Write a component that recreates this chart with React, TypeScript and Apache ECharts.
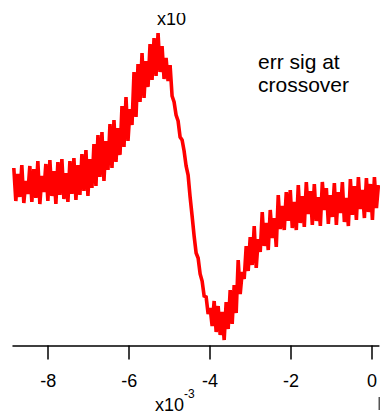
import React, { useEffect, useRef } from "react";
import * as echarts from "echarts";

// x sampling grid (units of 1e-3)
const xStart = -8.85;
const xStep = 0.0495;

// error signal (arbitrary units)
const signal: number[] = [
  3.2, -0.1, 2.6, 0.3, 3.5, -0.3, 1.9, 0.6, 3.4, -0.2,
  3.1, 0.2, 3.9, -0.4, 2.4, 0.8, 3.6, -0.1, 4.0, 0.4,
  2.9, -0.4, 3.8, 0.5, 4.1, 0.1, 2.7, -0.2, 3.9, 0.6,
  4.2, 0.0, 3.5, 0.5, 4.6, 0.9, 5.0, 0.4, 4.1, 1.2,
  5.6, 1.4, 6.5, 2.3, 6.8, 1.9, 5.9, 3.0, 7.6, 3.2,
  8.0, 3.8, 7.2, 4.5, 9.4, 5.3, 10.3, 5.9, 9.1, 7.5,
  12.8, 8.3, 13.6, 9.8, 14.7, 10.2, 13.9, 11.3, 15.6, 12.0,
  16.2, 12.4, 16.7, 12.8, 15.4, 12.1, 14.2, 11.9, 13.5, 10.4,
  9.8, 8.5, 7.9, 6.3, 6.0, 4.9, 3.4, 2.5, 0.3, -1.6,
  -3.6, -5.3, -5.8, -7.4, -8.1, -9.6, -9.7, -11.4, -10.8, -12.6,
  -10.1, -13.2, -10.6, -13.5, -11.2, -14.0, -10.2, -12.9, -9.0, -12.4,
  -8.5, -11.3, -6.0, -9.4, -7.2, -7.9, -4.6, -7.1, -3.7, -6.5,
  -2.6, -6.8, -3.9, -5.2, -1.2, -4.6, -2.3, -5.0, -1.0, -3.8,
  -1.8, -4.7, 0.5, -2.9, -0.6, -3.0, 0.8, -2.1, 1.0, -2.8,
  -0.2, -3.0, 1.5, -2.3, 0.4, -2.7, 1.8, -1.4, 0.9, -2.5,
  1.6, -2.1, 0.3, -2.6, 1.8, -1.0, 1.2, -2.4, 0.5, -1.7,
  1.7, -2.5, 0.8, -1.3, 1.8, -2.2, 0.2, -2.6, 2.1, -1.5,
  1.4, -2.0, 2.3, -0.9, 1.0, -1.8, 2.2, -1.2, 1.6, -2.0, 2.3, -0.8, 1.5,
];

const xTickValues = [-8, -6, -4, -2, 0];
const annotationLines = ["err sig at", "crossover"];

const FONT = "'Liberation Sans', Arial, Helvetica, sans-serif";

export default function App() {
  const ref = useRef<HTMLDivElement>(null);

  useEffect(() => {
    if (!ref.current) return;
    const chart = echarts.init(ref.current, null, { renderer: "svg" });
    const data = signal.map((v, i) => [xStart + i * xStep, v]);
    chart.setOption({
      animation: false,
      backgroundColor: "#ffffff",
      grid: { left: 13, top: 0, width: 367, height: 345.5, containLabel: false },
      xAxis: {
        type: "value",
        min: -8.87,
        max: 0.17,
        axisLine: { show: true, onZero: false, lineStyle: { color: "#000", width: 1.5 } },
        axisTick: {
          show: true,
          length: 14,
          customValues: xTickValues,
          lineStyle: { color: "#000", width: 1.5 },
        },
        axisLabel: {
          show: true,
          customValues: xTickValues,
          fontSize: 18,
          fontFamily: FONT,
          color: "#000",
          margin: 26,
        },
        splitLine: { show: false },
      },
      yAxis: {
        type: "value",
        min: -14.55,
        max: 20,
        show: false,
        splitLine: { show: false },
      },
      series: [
        {
          type: "line",
          data,
          showSymbol: false,
          symbol: "none",
          lineStyle: { color: "#ff0000", width: 3.6, join: "miter" },
          itemStyle: { color: "#ff0000" },
          clip: true,
        },
      ],
      graphic: [
        {
          type: "text",
          x: 157,
          y: 19,
          z: 10,
          style: { text: "x10", font: `18px ${FONT}`, fill: "#000", verticalAlign: "middle" },
        },
        {
          type: "text",
          x: 189,
          y: 8,
          z: 10,
          style: { text: "-3", font: `12px ${FONT}`, fill: "#000", verticalAlign: "middle" },
        },
        {
          type: "rect",
          z: 11,
          shape: { x: 150, y: 0, width: 60, height: 13 },
          style: { fill: "#ffffff" },
        },
        {
          type: "text",
          x: 258,
          y: 61,
          z: 10,
          style: { text: annotationLines[0], font: `21px ${FONT}`, fill: "#000", verticalAlign: "middle" },
        },
        {
          type: "text",
          x: 258,
          y: 84,
          z: 10,
          style: { text: annotationLines[1], font: `21px ${FONT}`, fill: "#000", verticalAlign: "middle" },
        },
        {
          type: "text",
          x: 155,
          y: 405,
          z: 10,
          style: { text: "x10", font: `18px ${FONT}`, fill: "#000", verticalAlign: "middle" },
        },
        {
          type: "text",
          x: 184,
          y: 394,
          z: 10,
          style: { text: "-3", font: `12px ${FONT}`, fill: "#000", verticalAlign: "middle" },
        },
        {
          type: "rect",
          z: 10,
          shape: { x: 378.5, y: 397, width: 1.5, height: 13 },
          style: { fill: "#555" },
        },
      ],
    });
    return () => chart.dispose();
  }, []);

  return (
    <div
      ref={ref}
      style={{ position: "fixed", left: 0, top: 0, width: 380, height: 415, background: "#fff" }}
    />
  );
}
